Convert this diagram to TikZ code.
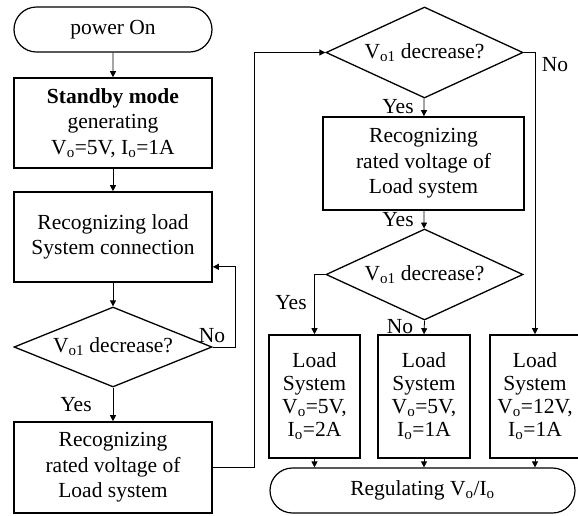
\documentclass[tikz,border=0pt]{standalone}
\usepackage{fontspec}
\setmainfont{Liberation Serif}
\usetikzlibrary{shapes.geometric,shapes.misc,arrows.meta,calc}
\newcommand{\lsub}[1]{\textsubscript{#1}}
\begin{document}
\begin{tikzpicture}[x=1pt,y=-1pt,
  txt/.style={font=\fontsize{21.5}{25.5}\selectfont},
  box/.style={txt,draw,line width=1.6pt,rectangle,inner sep=0pt,align=center},
  term/.style={txt,draw,line width=1.2pt,rounded rectangle,inner sep=0pt,align=center},
  dia/.style={txt,draw,line width=1.3pt,diamond,inner sep=0pt,align=center},
  arr/.style={line width=0.8pt,-{Triangle[length=6pt,width=6pt]}},
  lbl/.style={txt,inner sep=0pt}]
\useasboundingbox (0,0) rectangle (578,515);
% left column
\node[term,minimum width=198,minimum height=45] (start) at (113,29.5) {power On};
\node[box,minimum width=198,minimum height=90] (standby) at (113,123)
  {\textbf{Standby mode}\\generating\\V\lsub{o}=5V, I\lsub{o}=1A};
\node[box,minimum width=198,minimum height=90] (recog) at (113,237)
  {Recognizing load\\System connection};
\node[dia,aspect=2.47,minimum width=198,minimum height=80] (dec1) at (113,347)
  {V\lsub{o1} decrease?};
\node[box,minimum width=198,minimum height=91] (rated1) at (113,467.5)
  {Recognizing\\rated voltage of\\Load system};
% right column
\node[dia,aspect=2.16,minimum width=197,minimum height=91] (dec2) at (424.5,52.5)
  {V\lsub{o1} decrease?};
\node[box,minimum width=201,minimum height=93] (rated2) at (423.5,163.5)
  {Recognizing\\rated voltage of\\Load system};
\node[dia,aspect=2.16,minimum width=197,minimum height=91] (dec3) at (424.5,274.5)
  {V\lsub{o1} decrease?};
\node[box,minimum width=91,minimum height=123,font=\fontsize{21.5}{23}\selectfont] (load1) at (314.5,396.5)
  {Load\\System\\V\lsub{o}=5V,\\I\lsub{o}=2A};
\node[box,minimum width=92,minimum height=123,font=\fontsize{21.5}{23}\selectfont] (load2) at (424,396.5)
  {Load\\System\\V\lsub{o}=5V,\\I\lsub{o}=1A};
\node[box,minimum width=90,minimum height=123,font=\fontsize{21.5}{23}\selectfont] (load3) at (535,396.5)
  {Load\\System\\V\lsub{o}=12V,\\I\lsub{o}=1A};
\node[term,minimum width=305,minimum height=45] (reg) at (422.5,490.5)
  {Regulating V\lsub{o}/I\lsub{o}};
% connectors
\draw[arr] (start) -- (standby);
\draw[arr] (standby) -- (recog);
\draw[arr] (recog) -- (dec1);
\coordinate (rin) at ($(recog.south east)+(0,-16)$);
\draw[arr] (dec1.east) -- ++(23,0) |- (rin);
\node[lbl] (no1) at (212,336) {No};
\draw[arr] (dec1) -- (rated1);
\node[lbl] (yes1) at (76,405) {Yes};
\draw[arr] (rated1.east) -- ++(42,0) |- (dec2.west);
\draw[arr] (dec2) -- (rated2);
\node[lbl] (yes2) at (398,107) {Yes};
\draw[arr] (rated2) -- (dec3);
\node[lbl] (yes3) at (398,220) {Yes};
\draw[arr] (dec3.west) -| (load1.north);
\node[lbl] (yes4) at (291,303) {Yes};
\draw[arr] (dec3.south) -- (load2.north);
\node[lbl] (no3) at (400,327) {No};
\draw[arr] (dec2.east) -| (load3.north);
\node[lbl] (no2) at (555,65) {No};
\draw[arr] (load1.south) -- (load1.south |- reg.north);
\draw[arr] (load2.south) -- (load2.south |- reg.north);
\draw[arr] (load3.south) -- (load3.south |- reg.north);
\end{tikzpicture}
\end{document}
